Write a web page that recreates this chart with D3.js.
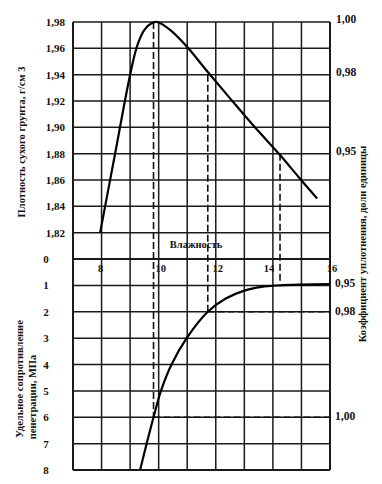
<!DOCTYPE html>
<html><head><meta charset="utf-8">
<script src="https://cdn.jsdelivr.net/npm/d3@7"></script>
<style>
html,body{margin:0;padding:0;background:#fff;}
text{font-family:"Liberation Serif","DejaVu Serif",serif;font-weight:bold;fill:#111;}
</style></head>
<body>
<svg id="chart" width="382" height="484"></svg>
<script>
// ---- data ----
const moistureTicks = [8, 10, 12, 14, 16];
const moistureGrid = [7, 8, 9, 10, 11, 12, 13, 14, 15, 16];
const densityTicks = [1.98, 1.96, 1.94, 1.92, 1.90, 1.88, 1.86, 1.84, 1.82];
const penetrationTicks = [0, 1, 2, 3, 4, 5, 6, 7, 8];

// compaction curve: moisture (%) vs dry density (g/cm3)
const densityMoisture = [7.95, 8.5, 9.0, 9.25, 9.5, 9.75, 9.95, 10.4, 11.0, 11.72, 12.5, 13.37, 14.25, 14.95, 15.55];
const densityValues   = [1.82, 1.883, 1.94, 1.962, 1.974, 1.979, 1.98, 1.974, 1.961, 1.942, 1.922, 1.90, 1.879, 1.861, 1.846];

// penetration resistance curve: moisture (%) vs MPa
const penMoisture = [9.35, 9.58, 9.82, 10.08, 10.45, 10.98, 11.72, 12.35, 13.0, 13.6, 14.25, 15.0, 16.0];
const penValues   = [8, 7, 6, 5, 4, 3, 2, 1.5, 1.2, 1.06, 1.0, 0.97, 0.95];

// compaction coefficient markers
const coefLabels = ["1,00", "0,98", "0,95"];
const coefDensity = [1.98, 1.94, 1.88];
const coefMoisture = [9.82, 11.72, 14.25];
const coefPenLabels = ["0,95", "0,98", "1,00"];
const coefPenValues = [0.95, 2, 6];
const dashPen = [6, 2, 0.9]; // penetration where each vertical dashed line ends

// ---- layout ----
const svg = d3.select("#chart");
const L = 73, R = 330, T = 22, MID = 259, B = 470;
const x = d3.scaleLinear().domain([7, 16]).range([L, R]);
const yTop = d3.scaleLinear().domain([1.80, 1.98]).range([MID, T]);
const yBot = d3.scaleLinear().domain([0, 8]).range([MID, B]);
const fmt = v => d3.format(".2f")(v).replace(".", ",");

const grid = svg.append("g").attr("stroke", "#1a1a1a").attr("stroke-width", 1.5);
grid.selectAll("line.v").data(moistureGrid).join("line")
  .attr("x1", d => x(d)).attr("x2", d => x(d)).attr("y1", T).attr("y2", B)
  .attr("stroke-width", (d, i) => (i === 0 || i === moistureGrid.length - 1) ? 2 : 1.5);
grid.selectAll("line.ht").data(densityTicks).join("line")
  .attr("x1", L).attr("x2", R).attr("y1", d => yTop(d)).attr("y2", d => yTop(d));
svg.append("g").attr("stroke", "#1a1a1a")
  .selectAll("line").data(penetrationTicks).join("line")
  .attr("x1", L).attr("x2", R).attr("y1", d => yBot(d)).attr("y2", d => yBot(d))
  .attr("stroke-width", d => (d === 0 || d === 8) ? 2 : 1.5);

// left tick labels
svg.append("g").selectAll("text").data(densityTicks).join("text")
  .attr("x", 65).attr("y", d => yTop(d) + 4).attr("text-anchor", "end")
  .attr("font-size", 11).text(d => fmt(d));
svg.append("g").selectAll("text").data(penetrationTicks).join("text")
  .attr("x", 46).attr("y", d => yBot(d) + 4).attr("text-anchor", "middle")
  .attr("font-size", 11).text(d => d);

// x tick labels (below divider)
svg.append("g").selectAll("text").data(moistureTicks).join("text")
  .attr("x", d => x(d) + (d === 8 ? -1 : (d === 14 ? -4 : 2))).attr("y", 272)
  .attr("text-anchor", "middle").attr("font-size", 10.5).text(d => d);

svg.append("text").attr("x", 196).attr("y", 248).attr("text-anchor", "middle")
  .attr("font-size", 10.5).text("Влажность");

// right labels
svg.append("g").selectAll("text").data(coefLabels).join("text")
  .attr("x", 336).attr("y", (d, i) => yTop(coefDensity[i]) + 1)
  .attr("font-size", 11.5).text(d => d);
svg.append("g").selectAll("text").data(coefPenLabels).join("text")
  .attr("x", 335).attr("y", (d, i) => yBot(coefPenValues[i]) + 3)
  .attr("font-size", 11.5).text(d => d);

// dashed guide lines
const dash = svg.append("g").attr("stroke", "#111").attr("stroke-width", 1.6)
  .attr("stroke-dasharray", "7,3").attr("fill", "none");
coefMoisture.forEach((m, i) => {
  dash.append("line").attr("x1", x(m)).attr("x2", x(m))
    .attr("y1", yTop(coefDensity[i])).attr("y2", yBot(dashPen[i]));
});
dash.append("line").attr("x1", x(coefMoisture[1])).attr("x2", x(16))
  .attr("y1", yBot(2)).attr("y2", yBot(2));
dash.append("line").attr("x1", x(coefMoisture[0])).attr("x2", x(16))
  .attr("y1", yBot(6)).attr("y2", yBot(6));

// curves
const topLine = d3.line().x(d => x(d[0])).y(d => yTop(d[1])).curve(d3.curveCatmullRom.alpha(0.5));
svg.append("path").datum(densityMoisture.map((m, i) => [m, densityValues[i]]))
  .attr("d", topLine).attr("fill", "none").attr("stroke", "#000").attr("stroke-width", 2.2);
const botLine = d3.line().x(d => x(d[0])).y(d => yBot(d[1])).curve(d3.curveCatmullRom.alpha(0.5));
svg.append("path").datum(penMoisture.map((m, i) => [m, penValues[i]]))
  .attr("d", botLine).attr("fill", "none").attr("stroke", "#000").attr("stroke-width", 2.2);

// axis titles
svg.append("text").attr("transform", "translate(25,142) rotate(-90)")
  .attr("text-anchor", "middle").attr("font-size", 10.5).text("Плотность сухого грунта, г/см 3");
svg.append("text").attr("transform", "translate(23,379) rotate(-90)")
  .attr("text-anchor", "middle").attr("font-size", 10.5).text("Удельное сопротивление");
svg.append("text").attr("transform", "translate(36,397) rotate(-90)")
  .attr("text-anchor", "middle").attr("font-size", 10.5).text("пенетрации, МПа");
svg.append("text").attr("transform", "translate(366,244) rotate(-90)")
  .attr("text-anchor", "middle").attr("font-size", 10.5).text("Коэффициент уплотнения, доли единицы");
</script>
</body></html>
